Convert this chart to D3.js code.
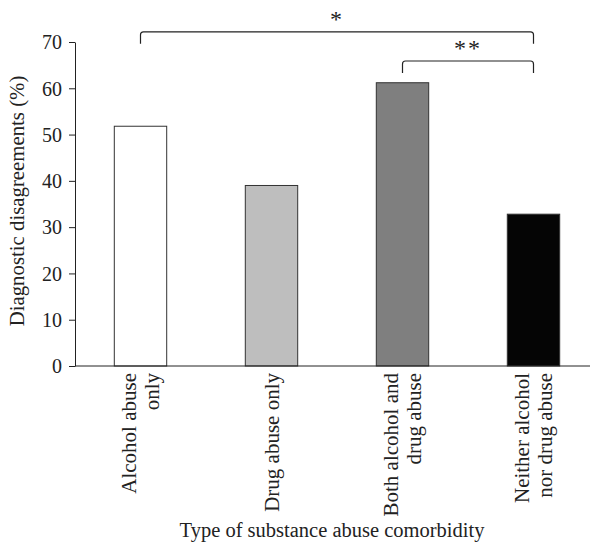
<!DOCTYPE html>
<html>
<head>
<meta charset="utf-8">
<script src="https://cdn.jsdelivr.net/npm/d3@7"></script>
<style>
  body { margin: 0; background: #fff; }
  text { font-family: "Liberation Serif", "DejaVu Serif", serif; fill: #222; }
</style>
</head>
<body>
<div id="chart-area"></div>
<script>
const categories = [
    ["Alcohol abuse", "only"],
    ["Drug abuse only"],
    ["Both alcohol and", "drug abuse"],
    ["Neither alcohol", "nor drug abuse"]
];
const values = [51.8, 39.0, 61.2, 32.8];
const barColors = ["#ffffff", "#bebebe", "#7f7f7f", "#050505"];
const yTicks = [0, 10, 20, 30, 40, 50, 60, 70];
const brackets = [
    { from: 0, to: 3, label: "*" },
    { from: 2, to: 3, label: "**" }
];

const chartSize = { width: 595, height: 554 };
const margin = { left: 75, right: 5, top: 42, bottom: 188 };
const width = chartSize.width - margin.left - margin.right;
const height = chartSize.height - margin.top - margin.bottom;
const fontSize = 20;

const svg = d3.select("#chart-area")
    .append("svg")
    .attr("width", chartSize.width)
    .attr("height", chartSize.height);

const g = svg.append("g")
    .attr("transform", `translate(${margin.left}, ${margin.top})`);

const x = d3.scaleBand()
    .domain(d3.range(categories.length))
    .range([0, 524])
    .paddingInner(0.6)
    .paddingOuter(0.3);

const y = d3.scaleLinear()
    .domain([0, 70])
    .range([height, 0]);

// bars
g.selectAll(".bar")
    .data(values)
    .enter()
    .append("rect")
    .attr("class", "bar")
    .attr("x", (d, i) => x(i))
    .attr("y", d => y(d))
    .attr("width", x.bandwidth())
    .attr("height", d => height - y(d))
    .attr("fill", (d, i) => barColors[i])
    .attr("stroke", "#333")
    .attr("stroke-width", 1);

// y axis
const yAxis = d3.axisLeft(y).tickValues(yTicks).tickSize(6).tickSizeOuter(0);
const yg = g.append("g").call(yAxis);
yg.select(".domain").attr("stroke", "#222");
yg.selectAll(".tick line").attr("stroke", "#222");
yg.selectAll(".tick text")
    .attr("x", -13)
    .attr("dy", "0.34em")
    .style("font-size", fontSize + "px")
    .style("font-family", "'Liberation Serif', serif")
    .attr("fill", "#222");

// x axis line
g.append("line")
    .attr("x1", 0)
    .attr("x2", width)
    .attr("y1", height)
    .attr("y2", height)
    .attr("stroke", "#222");

// x category labels, rotated
const lineH = 23;
const labels = g.selectAll(".xlab")
    .data(categories)
    .enter()
    .append("text")
    .attr("class", "xlab")
    .attr("transform", (d, i) => `translate(${x(i) + x.bandwidth() / 2}, ${height + 7}) rotate(-90)`)
    .attr("text-anchor", "end")
    .style("font-size", "21px");

labels.each(function (lines) {
    const t = d3.select(this);
    lines.forEach((line, j) => {
        t.append("tspan")
            .attr("x", 0)
            .attr("y", (j - (lines.length - 1) / 2) * lineH + 7)
            .text(line);
    });
});

// axis titles
g.append("text")
    .attr("x", 257)
    .attr("y", height + 171)
    .attr("text-anchor", "middle")
    .style("font-size", "20.5px")
    .text("Type of substance abuse comorbidity");

g.append("text")
    .attr("transform", "rotate(-90)")
    .attr("x", -height / 2 + 3)
    .attr("y", -51)
    .attr("text-anchor", "middle")
    .style("font-size", "20.8px")
    .text("Diagnostic disagreements (%)");

// significance brackets
const bracketY = [y(72.2), y(65.9)];
const legY = [y(69.6), y(63.3)];
brackets.forEach((b, k) => {
    const x1 = x(b.from) + x.bandwidth() / 2;
    const x2 = x(b.to) + x.bandwidth() / 2;
    const top = bracketY[k];
    const bottom = legY[k];
    const r = 3;
    g.append("path")
        .attr("d", `M${x1},${bottom} L${x1},${top + r} Q${x1},${top} ${x1 + r},${top} L${x2 - r},${top} Q${x2},${top} ${x2},${top + r} L${x2},${bottom}`)
        .attr("fill", "none")
        .attr("stroke", "#222")
        .attr("stroke-width", 1.2);
    g.append("text")
        .attr("x", (x1 + x2) / 2)
        .attr("y", top - 5)
        .attr("text-anchor", "middle")
        .style("font-size", "24px")
        .style("letter-spacing", "2px")
        .text(b.label);
});
</script>
</body>
</html>
